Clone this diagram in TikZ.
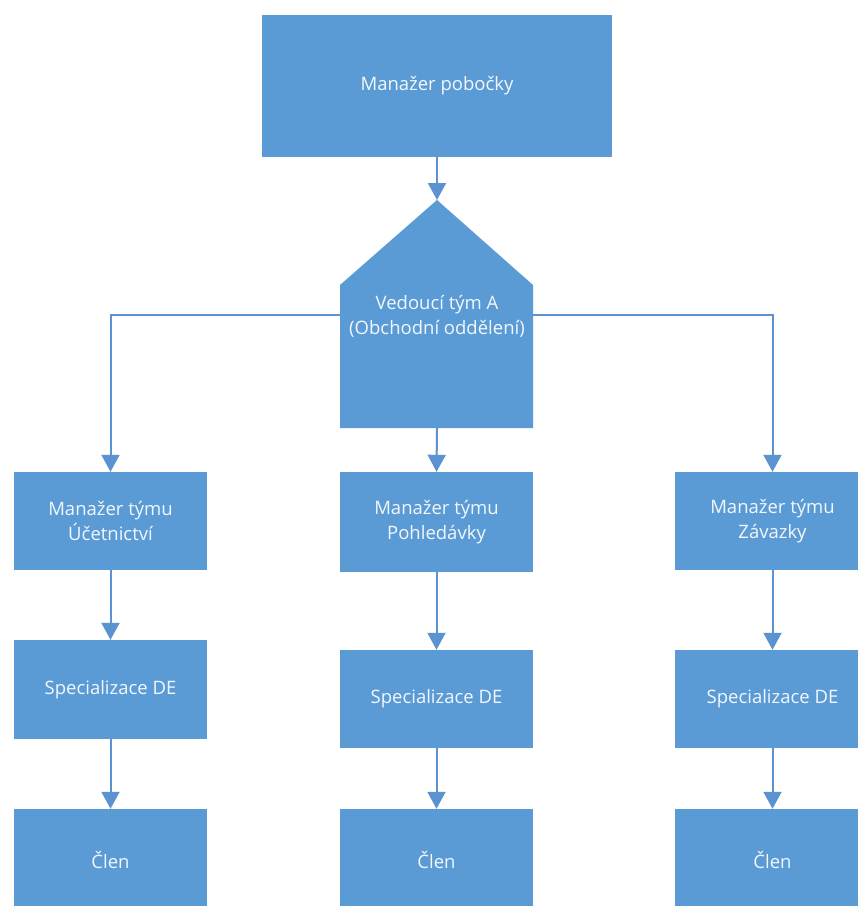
\documentclass[tikz,border=0pt]{standalone}
\usepackage{fontspec}
\setmainfont{Open Sans}
\usetikzlibrary{arrows.meta}
\definecolor{boxblue}{HTML}{5B9BD5}
\definecolor{lineblue}{HTML}{5B93D0}
\begin{document}
\begin{tikzpicture}[x=1pt,y=-1pt,
  txt/.style={text=white!92!boxblue,align=center,inner sep=0pt,font=\fontsize{18.5}{25}\selectfont},
  box/.style={txt,fill=boxblue,draw=none,
    minimum width=193pt,minimum height=98pt},
  conn/.style={draw=lineblue,line width=2pt,-{Triangle[width=18pt,length=17pt]}}]
\useasboundingbox (0,0) rectangle (858,906);
\clip (0,0) rectangle (858,906);
\fill[white] (0,0) rectangle (858,906);
% top box
\node[box,minimum width=350pt,minimum height=142pt] (top) at (437,86) {Manažer pobočky};
% pentagon
\fill[boxblue] (340,285) -- (437,200) -- (533,285) -- (533,428) -- (340,428) -- cycle;
\coordinate (apex) at (437,200);
\coordinate (pL) at (340,315);
\coordinate (pR) at (533,315);
\coordinate (pB) at (437,428);
\node[txt] (lead) at (437,316) {Vedoucí tým A\\(Obchodní oddělení)};
% managers
\node[box] (mgrL) at (110.5,521) {Manažer týmu\\Účetnictví};
\node[box,minimum height=100pt] (mgrM) at (436.5,522) {Manažer týmu\\Pohledávky};
\node[box,minimum width=195pt] (mgrR) at (772.5,521) {Manažer týmu\\Závazky};
% specialisations
\node[box,minimum height=99pt] (specL) at (110.5,689.5) {Specializace DE};
\node[box] (specM) at (436.5,699) {Specializace DE};
\node[box,minimum width=195pt] (specR) at (772.5,699) {Specializace DE};
% members
\node[box,minimum height=102pt] (clenL) at (110.5,860) {Člen};
\node[box,minimum height=102pt] (clenM) at (436.5,860) {Člen};
\node[box,minimum width=195pt,minimum height=102pt] (clenR) at (772.5,860) {Člen};
% connectors
\draw[conn] (top.south) -- (apex);
\draw[conn] (pL) -| (mgrL.north);
\draw[conn] (pR) -| (mgrR.north);
\draw[conn] (pB) -- (mgrM.north);
\draw[conn] (mgrL.south) -- (specL.north);
\draw[conn] (mgrM.south) -- (specM.north);
\draw[conn] (mgrR.south) -- (specR.north);
\draw[conn] (specL.south) -- (clenL.north);
\draw[conn] (specM.south) -- (clenM.north);
\draw[conn] (specR.south) -- (clenR.north);
\end{tikzpicture}
\end{document}
